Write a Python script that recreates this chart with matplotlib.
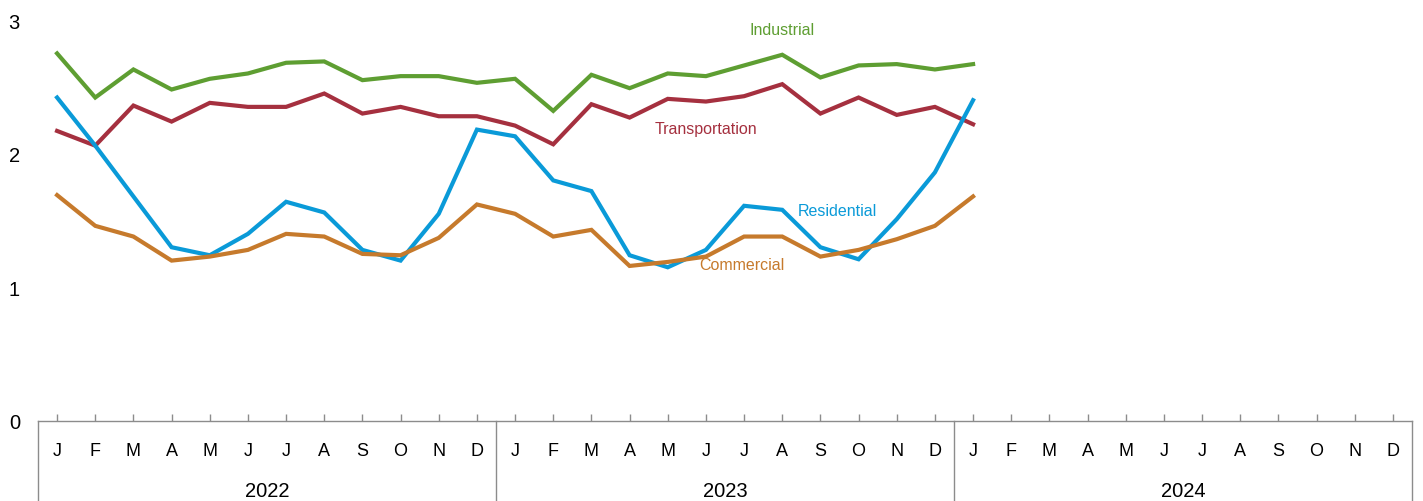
import matplotlib
matplotlib.use("Agg")
import matplotlib.pyplot as plt
import numpy as np

plt.rcParams['font.family'] = ['Liberation Sans', 'DejaVu Sans']

month_labels = ["J", "F", "M", "A", "M", "J", "J", "A", "S", "O", "N", "D"] * 3
year_labels = ["2022", "2023", "2024"]

industrial = [2.75, 2.42, 2.63, 2.48, 2.56, 2.60, 2.68, 2.69, 2.55, 2.58, 2.58, 2.53,
              2.56, 2.32, 2.59, 2.49, 2.60, 2.58, 2.66, 2.74, 2.57, 2.66, 2.67, 2.63,
              2.67]
transportation = [2.17, 2.06, 2.36, 2.24, 2.38, 2.35, 2.35, 2.45, 2.30, 2.35, 2.28, 2.28,
                  2.21, 2.07, 2.37, 2.27, 2.41, 2.39, 2.43, 2.52, 2.30, 2.42, 2.29, 2.35,
                  2.22]
residential = [2.42, 2.06, 1.68, 1.30, 1.24, 1.40, 1.64, 1.56, 1.28, 1.20, 1.55, 2.18,
               2.13, 1.80, 1.72, 1.24, 1.15, 1.28, 1.61, 1.58, 1.30, 1.21, 1.51, 1.86,
               2.40]
commercial = [1.69, 1.46, 1.38, 1.20, 1.23, 1.28, 1.40, 1.38, 1.25, 1.24, 1.37, 1.62,
              1.55, 1.38, 1.43, 1.16, 1.19, 1.23, 1.38, 1.38, 1.23, 1.28, 1.36, 1.46,
              1.68]

series = [
    ("Industrial", industrial, "#5e9e32", (19.0, 2.93)),
    ("Transportation", transportation, "#a5303f", (17.0, 2.185)),
    ("Residential", residential, "#0a9ad8", (20.45, 1.575)),
    ("Commercial", commercial, "#c67a2c", (17.95, 1.17)),
]

fig = plt.figure(figsize=(14.23, 5.02), dpi=100)
ax = fig.add_axes([38 / 1423, 80 / 502, 1374 / 1423, 401 / 502])

x = np.arange(len(industrial))
for name, vals, color, pos in series:
    ax.plot(x, vals, color=color, lw=3.0, solid_joinstyle='miter')
    ax.text(pos[0], pos[1], name, color=color, fontsize=11.5,
            ha='center', va='center')

ax.set_xlim(-0.5, 35.5)
ax.set_ylim(0, 3)

for s in ['top', 'left', 'right']:
    ax.spines[s].set_visible(False)
ax.spines['bottom'].set_color('#8c8c8c')
ax.spines['bottom'].set_linewidth(1.0)

ax.set_yticks([0, 1, 2, 3])
ax.set_yticklabels(["0", "1", "2", "3"], fontsize=14.5)
ax.tick_params(axis='y', length=0, pad=13)

ax.set_xticks(np.arange(36))
ax.set_xticklabels(month_labels, fontsize=13)
ax.tick_params(axis='x', direction='in', length=5, width=1, color='#8c8c8c', pad=15)

trans = ax.get_xaxis_transform()
for b in [-0.5, 11.5, 23.5, 35.5]:
    ax.plot([b, b], [0, -0.21], color='#8c8c8c', lw=1.0, transform=trans, clip_on=False)
for i, yl in enumerate(year_labels):
    ax.text(5.5 + 12 * i, -0.174, yl, transform=trans, ha='center', va='center',
            fontsize=14.5)

fig.savefig("out.png", dpi=100)
